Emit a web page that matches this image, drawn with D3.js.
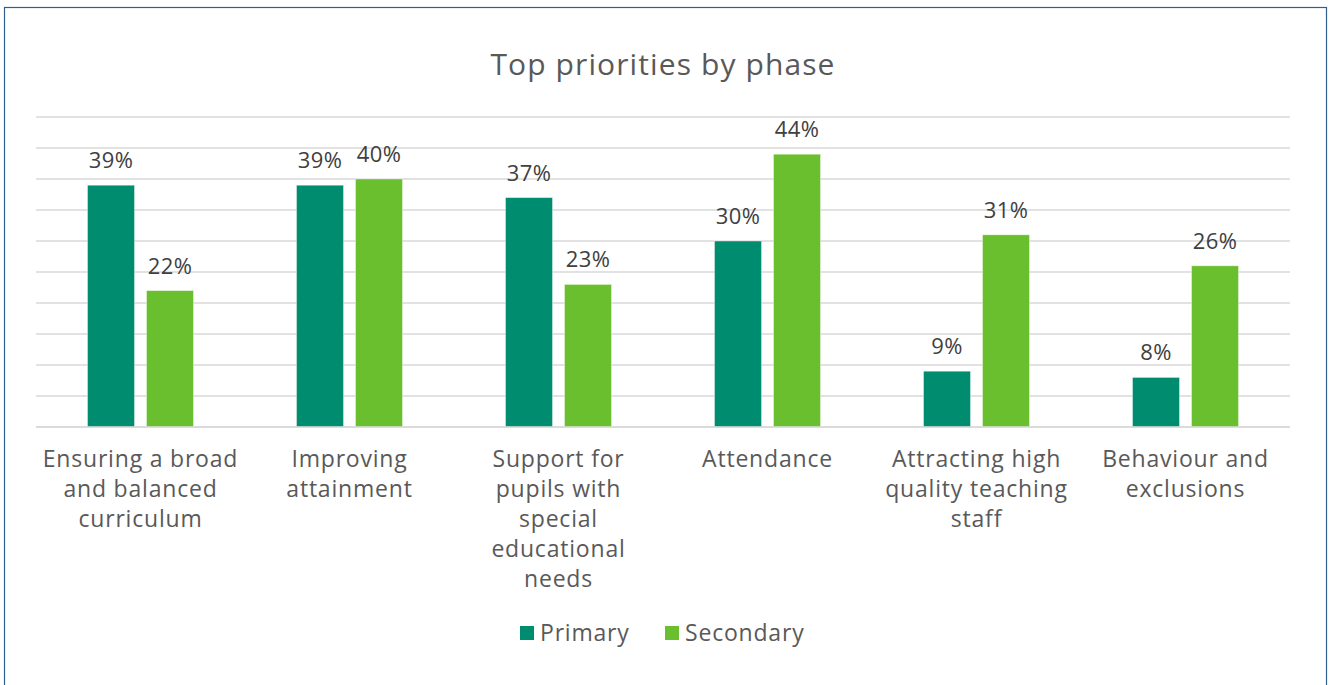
<!DOCTYPE html>
<html>
<head>
<meta charset="utf-8">
<script src="https://cdn.jsdelivr.net/npm/d3@7"></script>
<style>
  html, body { margin: 0; padding: 0; background: #fff; }
  svg { display: block; font-family: "Open Sans", "Lato", sans-serif; }
</style>
</head>
<body>
<svg id="chart" width="1335" height="685"></svg>
<script>
// Share of schools naming each area a top priority, by phase
const categories = [
  ["Ensuring a broad", "and balanced", "curriculum"],
  ["Improving", "attainment"],
  ["Support for", "pupils with", "special", "educational", "needs"],
  ["Attendance"],
  ["Attracting high", "quality teaching", "staff"],
  ["Behaviour and", "exclusions"]
];
const primary = [39, 39, 37, 30, 9, 8];
const secondary = [22, 40, 23, 44, 31, 26];
const seriesNames = ["Primary", "Secondary"];
const yTicks = [0, 5, 10, 15, 20, 25, 30, 35, 40, 45, 50];

const colors = ["#008c6e", "#6abf2e"];
const svg = d3.select("#chart");

// outer frame
svg.append("rect")
  .attr("x", 4.5).attr("y", 7.5)
  .attr("width", 1322).attr("height", 690)
  .attr("fill", "#fff").attr("stroke", "#2f5f8f").attr("stroke-width", 1.2);

const plotLeft = 36, plotRight = 1290, plotTop = 117, plotBottom = 427;

const x0 = d3.scaleBand().domain(d3.range(categories.length)).range([plotLeft, plotRight]);
const y = d3.scaleLinear().domain([0, 50]).range([plotBottom, plotTop]);

// title
svg.append("text")
  .attr("x", 663).attr("y", 75)
  .attr("text-anchor", "middle")
  .attr("fill", "#595959")
  .attr("font-size", 30)
  .attr("letter-spacing", 1.1)
  .text("Top priorities by phase");

// horizontal gridlines
svg.append("g").selectAll("line")
  .data(yTicks)
  .join("line")
  .attr("x1", plotLeft).attr("x2", plotRight)
  .attr("y1", d => y(d)).attr("y2", d => y(d))
  .attr("stroke", "#d9d9d9").attr("stroke-width", 1.5);

const barW = 47, innerGap = 12;
const series = [primary, secondary];

series.forEach((vals, s) => {
  const offset = s === 0 ? -(innerGap / 2 + barW) : innerGap / 2;
  const g = svg.append("g");
  g.selectAll("rect")
    .data(vals)
    .join("rect")
    .attr("x", (d, i) => x0(i) + x0.bandwidth() / 2 + offset)
    .attr("y", d => y(d))
    .attr("width", barW)
    .attr("height", d => y(0) - y(d))
    .attr("fill", colors[s])
    .attr("stroke", "#ffffff").attr("stroke-opacity", 0.5).attr("stroke-width", 0.8);
  g.selectAll("text")
    .data(vals)
    .join("text")
    .attr("x", (d, i) => x0(i) + x0.bandwidth() / 2 + offset + barW / 2)
    .attr("y", d => y(d) - 17)
    .attr("text-anchor", "middle")
    .attr("fill", "#404040")
    .attr("font-size", 22)
    .attr("letter-spacing", 0.4)
    .text(d => d + "%");
});

// baseline
svg.append("line")
  .attr("x1", plotLeft).attr("x2", plotRight)
  .attr("y1", y(0)).attr("y2", y(0))
  .attr("stroke", "#d9d9d9").attr("stroke-width", 1.5);

// category labels
const catG = svg.append("g");
categories.forEach((lines, i) => {
  const t = catG.append("text")
    .attr("text-anchor", "middle")
    .attr("fill", "#595959")
    .attr("font-size", 23)
    .attr("letter-spacing", 0.8);
  lines.forEach((ln, k) => {
    t.append("tspan")
      .attr("x", x0(i) + x0.bandwidth() / 2)
      .attr("y", 467 + k * 30)
      .text(ln);
  });
});

// legend
const legend = svg.append("g");
const legendX = [520, 665];
seriesNames.forEach((name, s) => {
  legend.append("rect")
    .attr("x", legendX[s]).attr("y", 626)
    .attr("width", 14).attr("height", 14)
    .attr("fill", colors[s]);
  legend.append("text")
    .attr("x", legendX[s] + 20).attr("y", 641)
    .attr("fill", "#595959")
    .attr("font-size", 23)
    .attr("letter-spacing", 0.8)
    .text(name);
});
</script>
</body>
</html>
